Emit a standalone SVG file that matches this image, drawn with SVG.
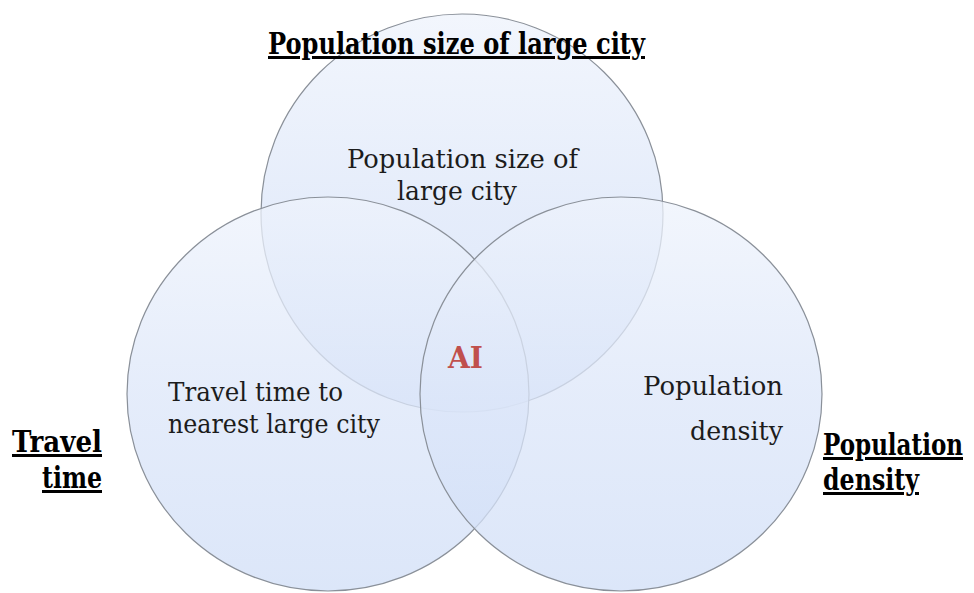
<svg xmlns="http://www.w3.org/2000/svg" width="974" height="593" viewBox="0 0 974 593">
  <defs>
    <linearGradient id="bubbleFill" x1="0" y1="0" x2="0" y2="1">
      <stop offset="0" stop-color="#eef3fc"/>
      <stop offset="0.5" stop-color="#dce6f9"/>
      <stop offset="1" stop-color="#d0def7"/>
    </linearGradient>
  </defs>
  <style>
    .bubble { fill: url(#bubbleFill); fill-opacity: 0.75; stroke: #8a9099; stroke-width: 1.2; }
    text { font-family: "DejaVu Serif", "Liberation Serif", serif; }
    .inner { font-size: 26px; fill: #1c1c1c; }
    .heading { font-size: 30px; font-weight: bold; fill: #000; text-decoration: underline; }
    .core { font-size: 29px; font-weight: bold; fill: #c0504d; }
  </style>

  <rect width="974" height="593" fill="#ffffff"/>

  <!-- top circle: population size of large city -->
  <g id="node-population-size">
    <ellipse class="bubble" cx="462" cy="213" rx="201" ry="199"/>
    <text class="inner" x="347" y="168" textLength="231" lengthAdjust="spacingAndGlyphs">Population size of</text>
    <text class="inner" x="397" y="200" textLength="120" lengthAdjust="spacingAndGlyphs">large city</text>
  </g>

  <!-- lower-left circle: travel time -->
  <g id="node-travel-time">
    <ellipse class="bubble" cx="328" cy="394" rx="201" ry="197"/>
    <text class="inner" x="168" y="401" textLength="175" lengthAdjust="spacingAndGlyphs">Travel time to</text>
    <text class="inner" x="168" y="433" textLength="212" lengthAdjust="spacingAndGlyphs">nearest large city</text>
  </g>

  <!-- lower-right circle: population density -->
  <g id="node-population-density">
    <ellipse class="bubble" cx="621" cy="394" rx="201" ry="197"/>
    <text class="inner" x="643" y="395" textLength="140" lengthAdjust="spacingAndGlyphs">Population</text>
    <text class="inner" x="690" y="440" textLength="93" lengthAdjust="spacingAndGlyphs">density</text>
  </g>

  <!-- shared centre -->
  <g id="node-ai">
    <text class="core" x="448" y="368" textLength="35" lengthAdjust="spacingAndGlyphs">AI</text>
  </g>

  <!-- outside captions -->
  <g id="label-top">
    <text class="heading" x="268" y="54" textLength="377" lengthAdjust="spacingAndGlyphs">Population size of large city</text>
  </g>
  <g id="label-left">
    <text class="heading" x="12" y="452" textLength="90" lengthAdjust="spacingAndGlyphs">Travel</text>
    <text class="heading" x="42" y="488" textLength="60" lengthAdjust="spacingAndGlyphs">time</text>
  </g>
  <g id="label-right">
    <text class="heading" x="823" y="455" textLength="140" lengthAdjust="spacingAndGlyphs">Population</text>
    <text class="heading" x="823" y="490" textLength="96" lengthAdjust="spacingAndGlyphs">density</text>
  </g>
</svg>
